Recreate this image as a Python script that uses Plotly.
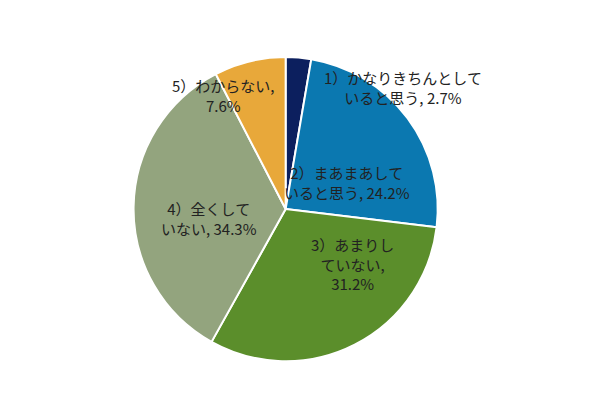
import plotly.graph_objects as go

categories = ["1）かなりきちんとしていると思う", "2）まあまあしていると思う", "3）あまりしていない", "4）全くしていない", "5）わからない"]
values = [2.7, 24.2, 31.2, 34.3, 7.6]
colors = ["#0c1f5e", "#0b78b0", "#5b8e2b", "#93a47e", "#e8a83a"]
label_texts = ["1）かなりきちんとして<br>いると思う, 2.7%", "2）まあまあして<br>いると思う, 24.2%",
               "3）あまりし<br>ていない,<br>31.2%", "4）全くして<br>いない, 34.3%", "5）わからない,<br>7.6%"]
label_pos = [(0.66, 0.86), (0.675, 0.57), (0.575, 0.29), (0.335, 0.48), (0.27, 0.84)]

fig = go.Figure(go.Pie(labels=categories, values=values, sort=False, direction="clockwise",
                       rotation=0, marker=dict(colors=colors, line=dict(color="white", width=2)),
                       textinfo="none", hoverinfo="label+percent",
                       domain=dict(x=[0.209, 0.718], y=[0.128, 0.879])))
for t, (x, y) in zip(label_texts, label_pos):
    fig.add_annotation(x=x, y=y, xref="paper", yref="paper", text=t, showarrow=False,
                       font=dict(size=15, color="#222", family="Noto Sans CJK JP"), align="center")
fig.update_layout(width=599, height=405, margin=dict(l=0, r=0, t=0, b=0), showlegend=False,
                  paper_bgcolor="white")
fig.write_html("out.html")
